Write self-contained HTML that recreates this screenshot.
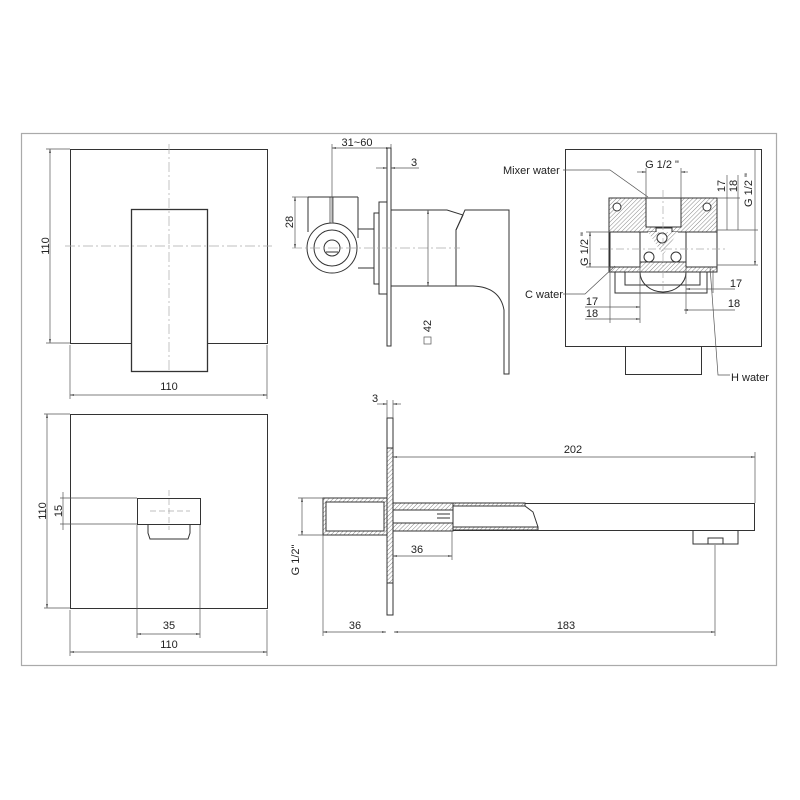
<!DOCTYPE html>
<html><head><meta charset="utf-8"><style>
html,body{margin:0;padding:0;background:#fff}
svg{display:block}
text{font-family:"Liberation Sans",Arial,sans-serif;font-size:11px;fill:#222}
</style></head><body>
<svg width="800" height="800" viewBox="0 0 800 800" xmlns="http://www.w3.org/2000/svg">
<defs>
<pattern id="h" width="3" height="3" patternUnits="userSpaceOnUse" patternTransform="rotate(45)">
<rect width="3" height="3" fill="#fff"/><line x1="0" y1="0" x2="0" y2="3" stroke="#888" stroke-width="1"/>
</pattern>
<marker id="a" viewBox="0 0 10 10" refX="10" refY="5" markerWidth="6" markerHeight="6" orient="auto-start-reverse"><path d="M0,3 L10,5 L0,7 Z" fill="#222"/></marker>
</defs>
<rect x="21.5" y="133.5" width="755" height="532" fill="none" stroke="#aaa" stroke-width="1.2"/>
<g fill="none" stroke="#333" stroke-width="1">
<!-- top-left -->
<rect x="70.5" y="149.5" width="197" height="194"/>
<rect x="131.5" y="209.5" width="76" height="162" fill="#fff" stroke-width="1.3"/>
<g stroke="#aaa" stroke-dasharray="10,3,2,3" stroke-width="0.7"><line x1="169" y1="144" x2="169" y2="371"/><line x1="65" y1="246" x2="272" y2="246"/></g>
<g stroke="#555" stroke-width="0.7">
<line x1="50" y1="149" x2="50" y2="343" marker-start="url(#a)" marker-end="url(#a)"/>
<line x1="46" y1="149" x2="70" y2="149"/><line x1="46" y1="343" x2="70" y2="343"/>
<line x1="70" y1="345" x2="70" y2="399"/><line x1="267" y1="345" x2="267" y2="399"/>
<line x1="70" y1="395" x2="267" y2="395" marker-start="url(#a)" marker-end="url(#a)"/>
</g>
<!-- bottom-left -->
<rect x="70.5" y="414.5" width="197" height="194"/>
<rect x="137.5" y="498.5" width="63" height="26"/>
<path d="M148,525 V533 L150,539 H188 L190,533 V525"/>
<g stroke="#aaa" stroke-dasharray="6,3" stroke-width="0.7"><line x1="169" y1="490" x2="169" y2="530"/><line x1="150" y1="511" x2="190" y2="511"/></g>
<g stroke="#555" stroke-width="0.7">
<line x1="47" y1="414" x2="47" y2="608" marker-start="url(#a)" marker-end="url(#a)"/>
<line x1="44" y1="414" x2="70" y2="414"/><line x1="44" y1="608" x2="70" y2="608"/>
<line x1="63" y1="492" x2="63" y2="530"/><line x1="60" y1="498" x2="137" y2="498"/><line x1="60" y1="524" x2="137" y2="524"/>
<line x1="137" y1="525" x2="137" y2="638"/><line x1="200" y1="525" x2="200" y2="638"/>
<line x1="137" y1="634" x2="200" y2="634" marker-start="url(#a)" marker-end="url(#a)"/>
<line x1="70" y1="610" x2="70" y2="656"/><line x1="267" y1="610" x2="267" y2="656"/>
<line x1="70" y1="652" x2="267" y2="652" marker-start="url(#a)" marker-end="url(#a)"/>
</g>
<!-- side view -->
<rect x="387" y="148" width="4" height="198"/>
<rect x="379" y="202" width="8" height="92"/>
<rect x="374" y="213" width="5" height="71"/>
<path d="M391,210 H447 L463,215 L456,230 V286 H391"/>
<path d="M465,210 H509 V374 H504 V310 Q500,287 473,286 H456 V230 Z"/>
<path d="M308,197 V232 M358,197 V238 M308,197 H358 M358,229 H374 M358,268 H374"/>
<path d="M330,197 V238 M333,197 V238" stroke-width="0.7"/>
<circle cx="332" cy="248" r="25" fill="#fff"/>
<circle cx="332" cy="248" r="18"/>
<circle cx="332" cy="248" r="8"/>
<line x1="326" y1="252" x2="338" y2="252"/>
<line x1="292" y1="248" x2="460" y2="248" stroke="#aaa" stroke-dasharray="10,3,2,3" stroke-width="0.7"/>
<g stroke="#555" stroke-width="0.7">
<line x1="295" y1="197" x2="295" y2="248" marker-start="url(#a)" marker-end="url(#a)"/>
<line x1="292" y1="197" x2="308" y2="197"/>
<line x1="332" y1="144" x2="332" y2="222"/><line x1="391" y1="144" x2="391" y2="148"/>
<line x1="332" y1="148" x2="390" y2="148" marker-start="url(#a)" marker-end="url(#a)"/>
<line x1="376" y1="168" x2="387" y2="168" marker-end="url(#a)"/><line x1="391" y1="168" x2="419" y2="168" marker-start="url(#a)"/>
<line x1="428" y1="210" x2="428" y2="286" marker-start="url(#a)" marker-end="url(#a)"/>
</g>
<rect x="424" y="337" width="7" height="7" stroke="#555" stroke-width="0.7"/>
<!-- right view -->
<rect x="565.5" y="149.5" width="196" height="197"/>
<rect x="625.5" y="346.5" width="76" height="28"/>
<rect x="609" y="198" width="108" height="74" fill="url(#h)"/>
<rect x="646" y="198" width="35" height="29" fill="#fff"/>
<rect x="610" y="232" width="30" height="35" fill="#fff"/>
<rect x="686" y="232" width="31" height="35" fill="#fff"/>
<path d="M640,232 H656 V228 H672 V232 H686 V262 H640 Z" fill="#fff"/>
<path d="M648,232 L663,255 L678,232 Z" fill="url(#h)" stroke="none"/>
<circle cx="617" cy="207" r="4" fill="#fff"/><circle cx="707" cy="207" r="4" fill="#fff"/>
<circle cx="649" cy="257" r="5" fill="#fff"/><circle cx="676" cy="257" r="5" fill="#fff"/>
<circle cx="662" cy="238" r="5" fill="#fff"/>
<path d="M615,272 V293 H707 V272 M625,272 V285 H700 V272"/>
<path d="M640,272 A23,20 0 0 0 686,272"/>
<g stroke="#aaa" stroke-dasharray="8,3,2,3" stroke-width="0.7"><line x1="663" y1="190" x2="663" y2="290"/><line x1="600" y1="249" x2="725" y2="249"/></g>
<g stroke="#555" stroke-width="0.7">
<line x1="646" y1="168" x2="646" y2="198"/><line x1="681" y1="168" x2="681" y2="198"/>
<line x1="637" y1="172" x2="646" y2="172" marker-end="url(#a)"/><line x1="681" y1="172" x2="688" y2="172" marker-start="url(#a)"/>
<line x1="717" y1="198" x2="740" y2="198"/><line x1="717" y1="230" x2="758" y2="230"/><line x1="717" y1="265" x2="758" y2="265"/>
<line x1="727" y1="175" x2="727" y2="230"/><line x1="738" y1="175" x2="738" y2="230"/><line x1="755" y1="150" x2="755" y2="265" marker-end="url(#a)"/>
<line x1="586" y1="232" x2="610" y2="232"/><line x1="586" y1="267" x2="610" y2="267"/>
<line x1="590" y1="232" x2="590" y2="267" marker-start="url(#a)" marker-end="url(#a)"/>
<line x1="610" y1="267" x2="610" y2="323"/><line x1="640" y1="267" x2="640" y2="323"/>
<line x1="585" y1="307" x2="640" y2="307" marker-end="url(#a)"/><line x1="585" y1="319" x2="640" y2="319" marker-end="url(#a)"/>
<line x1="686" y1="267" x2="686" y2="314"/><line x1="713" y1="270" x2="713" y2="293"/>
<line x1="686" y1="289" x2="713" y2="289" marker-start="url(#a)"/><line x1="713" y1="289" x2="735" y2="289"/>
<line x1="684" y1="310" x2="713" y2="310" marker-start="url(#a)"/><line x1="713" y1="310" x2="735" y2="310"/>
<path d="M563,170 L610,170 L648,197"/>
<path d="M563,294 L585,294 L615,266"/>
<path d="M710,267 L718,375 H730"/>
</g>
<!-- spout -->
<rect x="387" y="418" width="6" height="197"/>
<rect x="387" y="448" width="6" height="135" fill="url(#h)"/>
<rect x="393.5" y="503.5" width="361" height="27"/>
<rect x="323" y="498" width="64" height="37" fill="url(#h)"/>
<rect x="326" y="502" width="58" height="29" fill="#fff"/>
<rect x="393" y="503" width="60" height="28" fill="url(#h)"/>
<rect x="393" y="510" width="60" height="13" fill="#fff"/>
<rect x="453" y="503" width="72" height="3" fill="url(#h)"/><rect x="453" y="527" width="85" height="3" fill="url(#h)"/>
<path d="M525,506 L533,512 L538,527"/>
<line x1="437" y1="514" x2="450" y2="514"/><line x1="437" y1="518" x2="450" y2="518"/>
<path d="M693,531 V544 H738 V531 M708,544 V538 H723 V544"/>
<g stroke="#555" stroke-width="0.7">
<line x1="387" y1="400" x2="387" y2="418"/><line x1="393" y1="400" x2="393" y2="418"/>
<line x1="377" y1="404" x2="387" y2="404" marker-end="url(#a)"/><line x1="393" y1="404" x2="401" y2="404" marker-start="url(#a)"/>
<line x1="755" y1="452" x2="755" y2="503"/>
<line x1="393" y1="457" x2="755" y2="457" marker-start="url(#a)" marker-end="url(#a)"/>
<line x1="452" y1="531" x2="452" y2="560"/>
<line x1="393" y1="556" x2="452" y2="556" marker-start="url(#a)" marker-end="url(#a)"/>
<line x1="298" y1="498" x2="323" y2="498"/><line x1="298" y1="535" x2="323" y2="535"/>
<line x1="302" y1="498" x2="302" y2="535" marker-start="url(#a)" marker-end="url(#a)"/>
<line x1="323" y1="535" x2="323" y2="636"/><line x1="715" y1="545" x2="715" y2="636"/>
<line x1="323" y1="632" x2="386" y2="632" marker-start="url(#a)" marker-end="url(#a)"/>
<line x1="394" y1="632" x2="715" y2="632" marker-start="url(#a)" marker-end="url(#a)"/>
</g>
</g>
<!-- text -->
<text x="169" y="390" text-anchor="middle">110</text>
<text transform="translate(49,246) rotate(-90)" text-anchor="middle">110</text>
<text transform="translate(46,511) rotate(-90)" text-anchor="middle">110</text>
<text transform="translate(62,511) rotate(-90)" text-anchor="middle">15</text>
<text x="169" y="629" text-anchor="middle">35</text>
<text x="169" y="648" text-anchor="middle">110</text>
<text x="357" y="146" text-anchor="middle">31~60</text>
<text x="414" y="166" text-anchor="middle">3</text>
<text transform="translate(293,222) rotate(-90)" text-anchor="middle">28</text>
<text transform="translate(431,326) rotate(-90)" text-anchor="middle">42</text>
<text x="503" y="174">Mixer water</text>
<text x="662" y="168" text-anchor="middle">G 1/2 "</text>
<text transform="translate(725,186) rotate(-90)" text-anchor="middle">17</text>
<text transform="translate(737,186) rotate(-90)" text-anchor="middle">18</text>
<text transform="translate(752,190) rotate(-90)" text-anchor="middle">G 1/2 "</text>
<text transform="translate(588,249) rotate(-90)" text-anchor="middle">G 1/2 "</text>
<text x="525" y="298">C water</text>
<text x="592" y="305" text-anchor="middle">17</text>
<text x="592" y="317" text-anchor="middle">18</text>
<text x="736" y="287" text-anchor="middle">17</text>
<text x="734" y="307" text-anchor="middle">18</text>
<text x="731" y="381">H water</text>
<text x="375" y="402" text-anchor="middle">3</text>
<text x="573" y="453" text-anchor="middle">202</text>
<text x="417" y="553" text-anchor="middle">36</text>
<text transform="translate(299,560) rotate(-90)" text-anchor="middle">G 1/2"</text>
<text x="355" y="629" text-anchor="middle">36</text>
<text x="566" y="629" text-anchor="middle">183</text>
</svg>
</body></html>
